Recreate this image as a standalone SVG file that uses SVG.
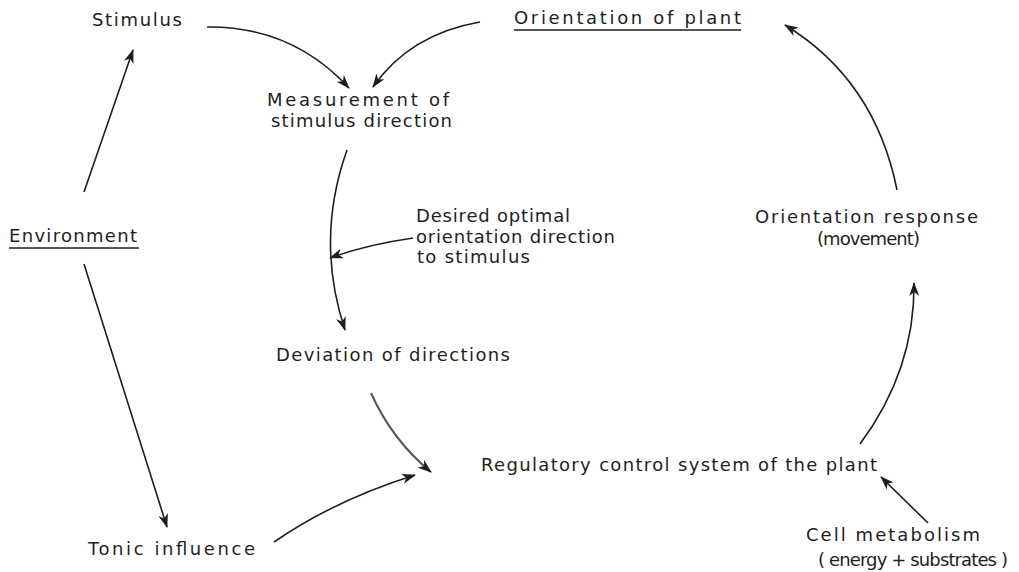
<svg xmlns="http://www.w3.org/2000/svg" width="1019" height="572" viewBox="0 0 1019 572">
<style>
text{font-family:"DejaVu Sans","Liberation Sans",sans-serif;font-size:18px;fill:#1e1e1e}
.c{fill:none;stroke:#1e1e1e;stroke-width:1.6;marker-end:url(#ah)}
.g{stroke:#555;stroke-width:2}
.u{stroke:#1e1e1e;stroke-width:1.4}
</style>
<defs>
<marker id="ah" viewBox="0 0 14 10" refX="13" refY="5" markerWidth="14" markerHeight="10" markerUnits="userSpaceOnUse" orient="auto">
<path d="M0,0 L14,5 L0,10 L4,5 z" fill="#1e1e1e"/>
</marker>
</defs>
<rect width="1019" height="572" fill="#fff"/>
<g id="connectors">
<path class="c" d="M207,27 Q292,26 349,88"/>
<path class="c" d="M480,22 Q410,34 373,87"/>
<path class="c" d="M84,192 L133,50"/>
<path class="c" d="M84,264 L167,527"/>
<path class="c" d="M347,150 Q315,240 345,330"/>
<path class="c" d="M413,238 Q365,245 330,258"/>
<path class="c g" d="M371,393 Q392,440 431,472"/>
<path class="c" d="M274,542 Q335,500 415,475"/>
<path class="c" d="M928,523 L881,477"/>
<path class="c" d="M860,444 Q915,370 914,283"/>
<path class="c" d="M897,190 Q875,80 785,25"/>
</g>
<g id="stimulus"><text x="92" y="26" textLength="90" lengthAdjust="spacing">Stimulus</text></g>
<g id="orientation-plant"><text x="514" y="24" textLength="227" lengthAdjust="spacing">Orientation of plant</text><line class="u" x1="514" y1="30" x2="741" y2="30"/></g>
<g id="measurement"><text x="267" y="106" textLength="182" lengthAdjust="spacing">Measurement of</text><text x="271" y="127" textLength="181" lengthAdjust="spacing">stimulus direction</text></g>
<g id="desired"><text x="416" y="222" textLength="154" lengthAdjust="spacing">Desired optimal</text><text x="416" y="243" textLength="199" lengthAdjust="spacing">orientation direction</text><text x="417" y="263" textLength="113" lengthAdjust="spacing">to stimulus</text></g>
<g id="environment"><text x="9" y="242" textLength="128" lengthAdjust="spacing">Environment</text><line class="u" x1="9" y1="248" x2="139" y2="248"/></g>
<g id="orientation-response"><text x="755" y="223" textLength="223" lengthAdjust="spacing">Orientation response</text><text x="817" y="245" textLength="103" lengthAdjust="spacing">(movement)</text></g>
<g id="deviation"><text x="276" y="361" textLength="234" lengthAdjust="spacing">Deviation of directions</text></g>
<g id="regulatory"><text x="481" y="471" textLength="396" lengthAdjust="spacing">Regulatory control system of the plant</text></g>
<g id="tonic"><text x="88" y="555" textLength="167" lengthAdjust="spacing">Tonic influence</text></g>
<g id="cell"><text x="806" y="541" textLength="174" lengthAdjust="spacing">Cell metabolism</text><text x="818" y="566" textLength="190" lengthAdjust="spacing">( energy + substrates )</text></g>
</svg>
